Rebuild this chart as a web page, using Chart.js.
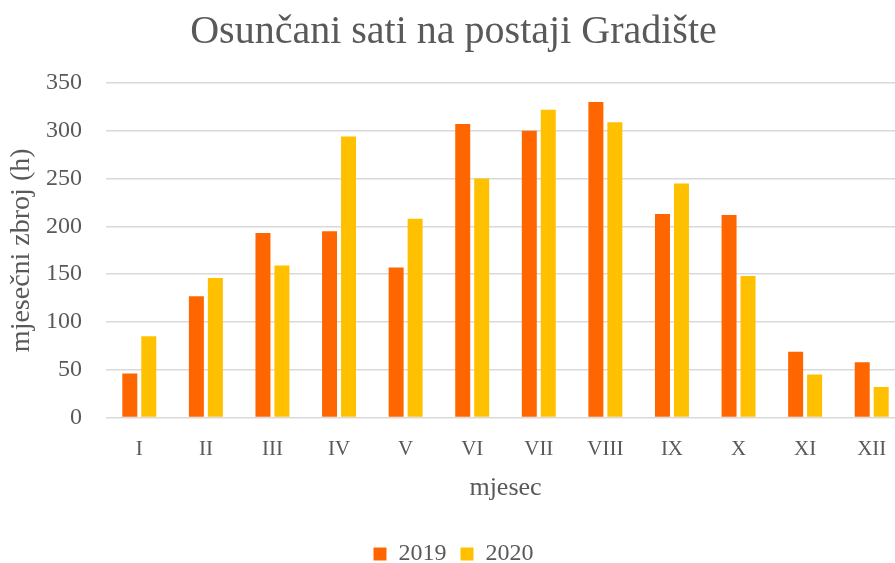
<!DOCTYPE html>
<html>
<head>
<meta charset="utf-8">
<script src="https://cdn.jsdelivr.net/npm/chart.js@4"></script>
<style>
  html, body { margin: 0; padding: 0; background: #fff; overflow: hidden; }
  #wrap { width: 895px; height: 563px; overflow: hidden; }
  #box { width: 905px; height: 563px; }
</style>
</head>
<body>
<div id="wrap"><div id="box"><canvas id="sunChart"></canvas></div></div>
<script>
// Osunčani sati - Gradište
const months = ['I', 'II', 'III', 'IV', 'V', 'VI', 'VII', 'VIII', 'IX', 'X', 'XI', 'XII'];
const sati2019 = [46, 127, 193, 195, 157, 307, 300, 330, 213, 212, 69, 58];
const sati2020 = [85, 146, 159, 294, 208, 250, 322, 309, 245, 148, 45, 32];

const sivo = '#595959';
const font = 'Liberation Serif, DejaVu Serif, serif';

new Chart(document.getElementById('sunChart'), {
  type: 'bar',
  data: {
    labels: months,
    datasets: [
      { label: '2019', data: sati2019, backgroundColor: '#ff6600', categoryPercentage: 0.57, barPercentage: 0.79 },
      { label: '2020', data: sati2020, backgroundColor: '#ffc000', categoryPercentage: 0.57, barPercentage: 0.79 }
    ]
  },
  options: {
    responsive: true,
    maintainAspectRatio: false,
    animation: false,
    layout: { padding: { left: 2, right: 0, top: 0, bottom: -13 } },
    plugins: {
      title: {
        display: true,
        text: 'Osunčani sati na postaji Gradište',
        color: sivo,
        font: { family: font, size: 40, weight: 'normal' },
        padding: { top: 8, bottom: 27 }
      },
      legend: {
        position: 'bottom',
        labels: { color: sivo, font: { family: font, size: 24 }, boxWidth: 13, boxHeight: 13, padding: 14 }
      },
      tooltip: { enabled: false }
    },
    scales: {
      y: {
        min: 0, max: 350,
        afterFit: (s) => { s.width = 104; },
        ticks: { stepSize: 50, color: sivo, font: { family: font, size: 24 }, padding: 24 },
        grid: { color: '#d9d9d9', lineWidth: 1.5, drawTicks: false },
        border: { display: false },
        title: { display: true, text: 'mjesečni zbroj (h)', color: sivo, font: { family: font, size: 28 }, padding: { top: 3, bottom: 7 } }
      },
      x: {
        ticks: { color: sivo, font: { family: font, size: 21 }, padding: 11 },
        grid: { display: false },
        border: { display: false },
        title: { display: true, text: 'mjesec', color: sivo, font: { family: font, size: 26 }, padding: { top: 0, bottom: 24 } }
      }
    }
  }
});
</script>
</body>
</html>
